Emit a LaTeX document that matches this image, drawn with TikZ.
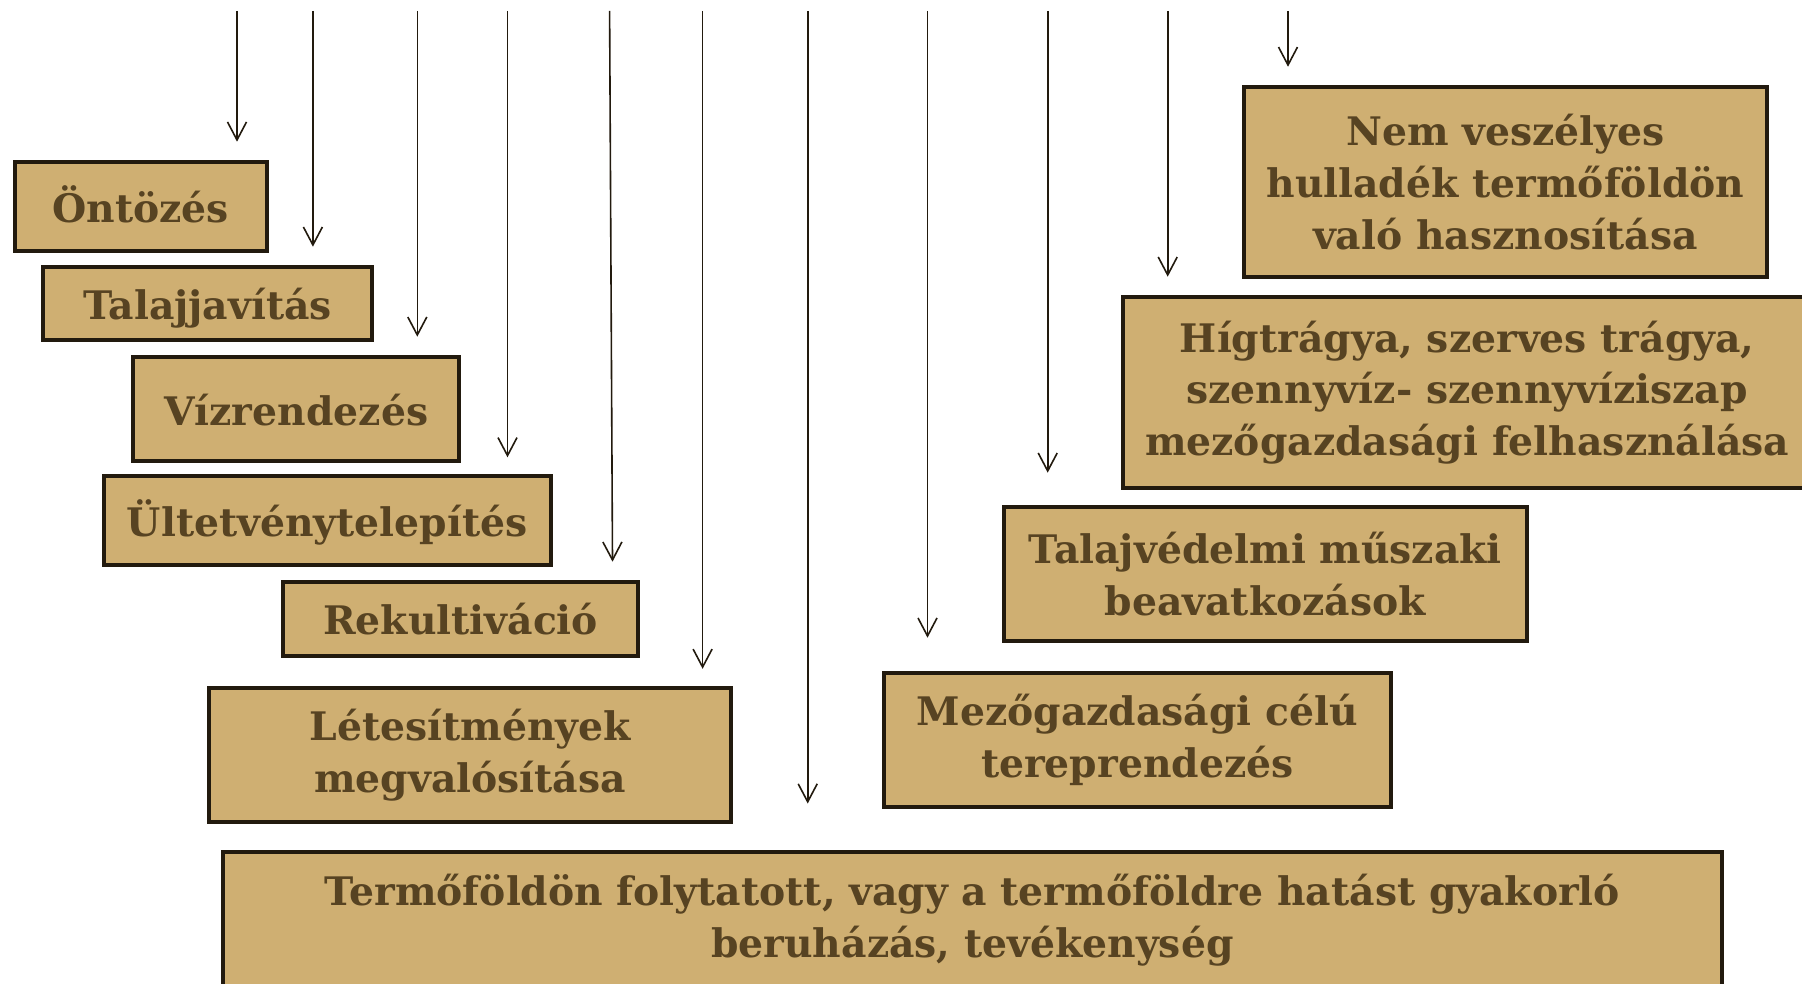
\documentclass[tikz,border=0pt]{standalone}
\usepackage{fontspec}
\setmainfont{DejaVu Serif}
\usetikzlibrary{arrows.meta,calc}
\definecolor{boxfill}{HTML}{CFAF72}
\definecolor{boxline}{HTML}{221A0E}
\definecolor{boxtext}{HTML}{574322}
\tikzset{
  box/.style={draw=boxline, line width=4pt, fill=boxfill, text=boxtext,
    align=center, inner sep=0pt,
    font=\bfseries\fontsize{39.3}{51.8}\selectfont},
  oneline/.style={text height=32pt, text depth=0pt},
  arr/.style={draw=boxline, line width=1.6pt,
    -{Straight Barb[length=18pt,width=19pt,line width=1.6pt]}, shorten >=18.3pt}
}
\begin{document}
\begin{tikzpicture}[x=1pt,y=-1pt]
\clip (0,0) rectangle (1802,984);
\fill[white] (0,0) rectangle (1802,984);
% boxes
\node[box, oneline, minimum width=252pt, minimum height=89pt] (ont) at (140.6,206.5) {Öntözés};
\node[box, oneline, minimum width=328.4pt, minimum height=73pt] (tal) at (207.5,303.5) {Talajjavítás};
\node[box, oneline, minimum width=325.5pt, minimum height=104pt] (viz) at (296.2,409) {Vízrendezés};
\node[box, oneline, minimum width=447.2pt, minimum height=89pt] (ult) at (327.2,520.8) {Ültetvénytelepítés};
\node[box, oneline, minimum width=354.7pt, minimum height=74.2pt] (rek) at (460.7,618.6) {Rekultiváció};
\node[box, minimum width=522.4pt, minimum height=134.4pt] (let) at (470.1,755) {Létesítmények\\megvalósítása};
\node[box, minimum width=1499.3pt, minimum height=136.7pt] (ter) at (972.4,920.5) {Termőföldön folytatott, vagy a termőföldre hatást gyakorló\\beruházás, tevékenység};
\node[box, minimum width=507.4pt, minimum height=134pt] (mez) at (1137.3,740) {Mezőgazdasági célú\\tereprendezés};
\node[box, minimum width=523pt, minimum height=134pt] (tvd) at (1265.2,574) {Talajvédelmi műszaki\\beavatkozások};
\node[box, minimum width=687.7pt, minimum height=191pt] (hig) at (1467.2,392.5) {Hígtrágya, szerves trágya,\\szennyvíz- szennyvíziszap\\mezőgazdasági felhasználása};
\node[box, minimum width=523.8pt, minimum height=190.3pt] (nem) at (1505.4,182.2) {Nem veszélyes\\hulladék termőföldön\\való hasznosítása};
% arrow start points
\coordinate (t1) at (237,11);
\coordinate (t2) at (312.9,11);
\coordinate (t3) at (417.3,11);
\coordinate (t4) at (507.5,11);
\coordinate (t5) at (609.6,11);
\coordinate (t6) at (702.6,11);
\coordinate (t7) at (807.7,11);
\coordinate (t8) at (927.5,11);
\coordinate (t9) at (1047.7,11);
\coordinate (t10) at (1167.7,11);
\coordinate (t11) at (1288,11);
% arrows
\draw[arr] (t1) -- (t1 |- ont.north);
\draw[arr] (t2) -- (t2 |- tal.north);
\draw[arr] (t3) -- (t3 |- viz.north);
\draw[arr, shorten >=17pt] (t4) -- (t4 |- ult.north);
\draw[arr, shorten >=17.8pt] (t5) -- ($(t5 |- rek.north)+(3,0)$);
\draw[arr, shorten >=17pt] (t6) -- (t6 |- let.north);
\draw[arr, shorten >=46.6pt] (t7) -- (t7 |- ter.north);
\draw[arr, shorten >=33.3pt] (t8) -- (t8 |- mez.north);
\draw[arr, shorten >=32.3pt] (t9) -- (t9 |- tvd.north);
\draw[arr] (t10) -- (t10 |- hig.north);
\draw[arr] (t11) -- (t11 |- nem.north);
\end{tikzpicture}
\end{document}
